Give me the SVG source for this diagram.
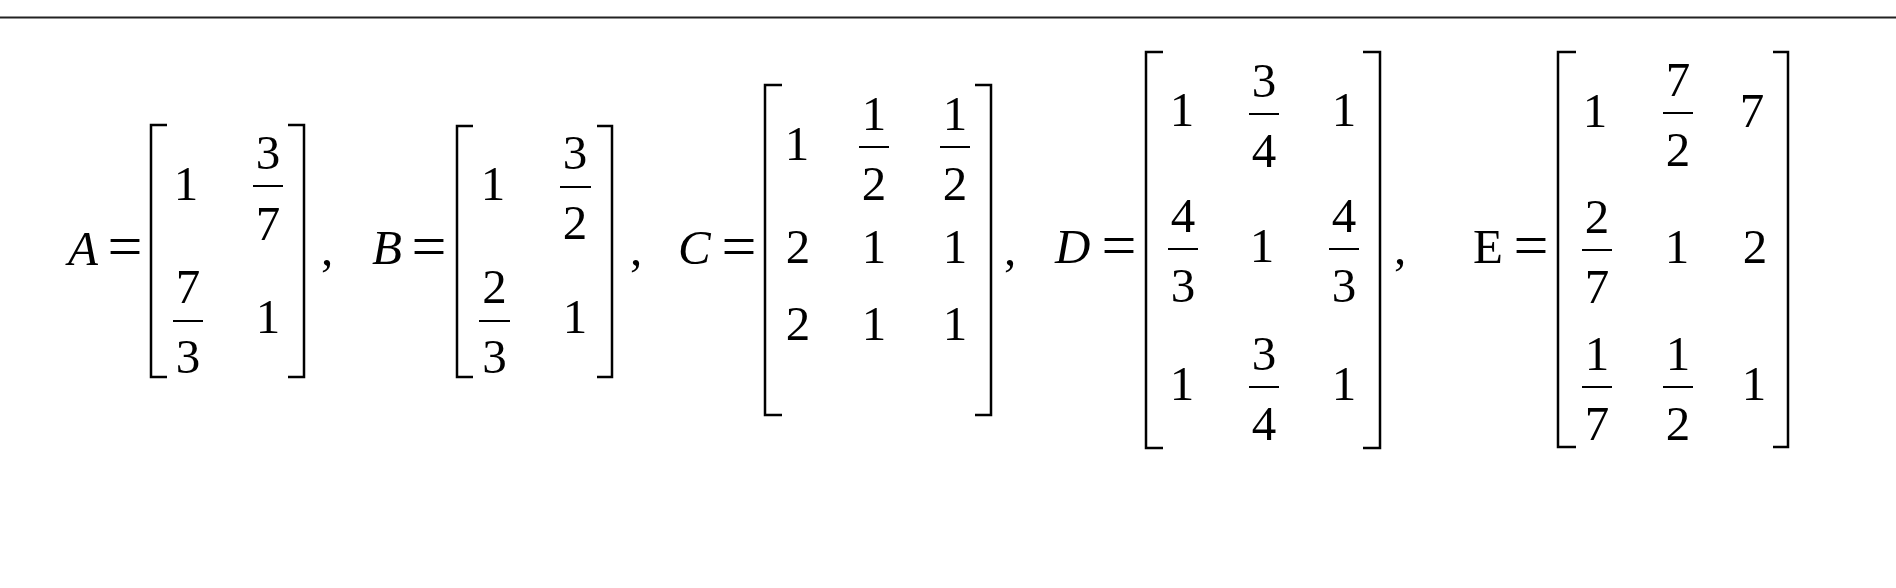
<svg xmlns="http://www.w3.org/2000/svg" width="1896" height="588" viewBox="0 0 1896 588">
<style>
text{font-family:"Liberation Serif","Times New Roman",serif;font-size:49px;fill:#000}
.i{font-style:italic}
.c{text-anchor:middle}
.eq{font-size:62px;text-anchor:middle}
.br{fill:none;stroke:#000;stroke-width:2.5}
.fb{stroke:#000;stroke-width:2}
</style>
<rect width="1896" height="588" fill="#fff"/>
<line x1="0" y1="17.5" x2="1896" y2="17.5" stroke="#222" stroke-width="2"/>

<g id="matrixA">
<text class="i" x="68" y="265">A</text>
<text class="eq" x="125" y="267">=</text>
<path class="br" d="M167,125 H151 V377 H167"/>
<text class="c" x="186" y="200">1</text>
<text class="c" x="268" y="169">3</text><line class="fb" x1="253" y1="186" x2="283" y2="186"/><text class="c" x="268" y="240">7</text>
<text class="c" x="188" y="303">7</text><line class="fb" x1="173" y1="321" x2="203" y2="321"/><text class="c" x="188" y="373">3</text>
<text class="c" x="268" y="333">1</text>
<path class="br" d="M288,125 H304 V377 H288"/>
<text class="c" x="327" y="265">,</text>
</g>

<g id="matrixB">
<text class="i" x="372" y="264">B</text>
<text class="eq" x="429" y="267">=</text>
<path class="br" d="M473,126 H457 V377 H473"/>
<text class="c" x="493" y="200">1</text>
<text class="c" x="575" y="169">3</text><line class="fb" x1="560" y1="187" x2="591" y2="187"/><text class="c" x="575" y="239">2</text>
<text class="c" x="494.5" y="303">2</text><line class="fb" x1="479" y1="321" x2="510" y2="321"/><text class="c" x="494.5" y="373">3</text>
<text class="c" x="575" y="333">1</text>
<path class="br" d="M597,126 H612 V377 H597"/>
<text class="c" x="636" y="265">,</text>
</g>

<g id="matrixC">
<text class="i" x="678" y="264">C</text>
<text class="eq" x="739" y="267">=</text>
<path class="br" d="M782,85 H765 V415 H782"/>
<text class="c" x="797" y="160">1</text>
<text class="c" x="874" y="130">1</text><line class="fb" x1="859" y1="147" x2="889" y2="147"/><text class="c" x="874" y="200">2</text>
<text class="c" x="955" y="130">1</text><line class="fb" x1="940" y1="147" x2="970" y2="147"/><text class="c" x="955" y="200">2</text>
<text class="c" x="798" y="263">2</text><text class="c" x="874" y="263">1</text><text class="c" x="955" y="263">1</text>
<text class="c" x="798" y="340">2</text><text class="c" x="874" y="340">1</text><text class="c" x="955" y="340">1</text>
<path class="br" d="M975,85 H991 V415 H975"/>
<text class="c" x="1010" y="265">,</text>
</g>

<g id="matrixD">
<text class="i" x="1055" y="263">D</text>
<text class="eq" x="1119" y="266">=</text>
<path class="br" d="M1163,52 H1146 V448 H1163"/>
<text class="c" x="1182" y="126">1</text>
<text class="c" x="1264" y="97">3</text><line class="fb" x1="1249" y1="114" x2="1279" y2="114"/><text class="c" x="1264" y="167">4</text>
<text class="c" x="1344" y="126">1</text>
<text class="c" x="1183" y="232">4</text><line class="fb" x1="1168" y1="249" x2="1198" y2="249"/><text class="c" x="1183" y="302">3</text>
<text class="c" x="1262" y="262">1</text>
<text class="c" x="1344" y="232">4</text><line class="fb" x1="1329" y1="249" x2="1359" y2="249"/><text class="c" x="1344" y="302">3</text>
<text class="c" x="1182" y="400">1</text>
<text class="c" x="1264" y="370">3</text><line class="fb" x1="1249" y1="387" x2="1279" y2="387"/><text class="c" x="1264" y="440">4</text>
<text class="c" x="1344" y="400">1</text>
<path class="br" d="M1363,52 H1380 V448 H1363"/>
<text class="c" x="1400" y="264">,</text>
</g>

<g id="matrixE">
<text x="1473" y="263">E</text>
<text class="eq" x="1531" y="266">=</text>
<path class="br" d="M1576,52 H1558 V447 H1576"/>
<text class="c" x="1595" y="127">1</text>
<text class="c" x="1678" y="96">7</text><line class="fb" x1="1663" y1="113" x2="1693" y2="113"/><text class="c" x="1678" y="166">2</text>
<text class="c" x="1752" y="127">7</text>
<text class="c" x="1597" y="233">2</text><line class="fb" x1="1582" y1="250" x2="1612" y2="250"/><text class="c" x="1597" y="303">7</text>
<text class="c" x="1677" y="263">1</text>
<text class="c" x="1755" y="263">2</text>
<text class="c" x="1597" y="370">1</text><line class="fb" x1="1582" y1="387" x2="1612" y2="387"/><text class="c" x="1597" y="440">7</text>
<text class="c" x="1678" y="370">1</text><line class="fb" x1="1663" y1="387" x2="1693" y2="387"/><text class="c" x="1678" y="440">2</text>
<text class="c" x="1754" y="400">1</text>
<path class="br" d="M1773,52 H1788 V447 H1773"/>
</g>

<g id="connectors"></g>
</svg>
